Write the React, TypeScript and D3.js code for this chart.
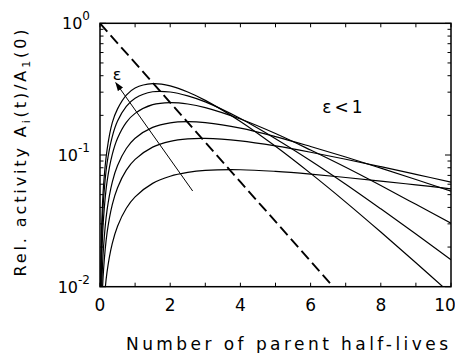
import React from "react";
import * as d3 from "d3";

// time points (number of parent half-lives)
const tPoints = [0.01, 0.02, 0.05, 0.1, 0.2, 0.35, 0.5, 0.75, 1, 1.5, 2, 2.5, 3, 4, 5, 6, 7, 8, 9, 10];

// daughter activity curves (top to bottom peak)
const curveE09 = [0.0062, 0.0123, 0.0302, 0.0584, 0.109, 0.176, 0.224, 0.285, 0.323, 0.348, 0.335, 0.301, 0.26, 0.18, 0.1165, 0.0725, 0.0439, 0.026, 0.0152, 0.0088];
const curveE07 = [0.0048, 0.0096, 0.0235, 0.0457, 0.0862, 0.138, 0.181, 0.234, 0.27, 0.302, 0.301, 0.281, 0.253, 0.189, 0.133, 0.0905, 0.06, 0.039, 0.0251, 0.016];
const curveE05 = [0.0034, 0.0069, 0.0169, 0.0329, 0.0625, 0.101, 0.134, 0.177, 0.207, 0.241, 0.25, 0.244, 0.229, 0.1875, 0.1455, 0.109, 0.0806, 0.0586, 0.0422, 0.0303];
const curveE03 = [0.0021, 0.0041, 0.0102, 0.0199, 0.038, 0.0623, 0.0832, 0.112, 0.134, 0.162, 0.1756, 0.179, 0.176, 0.16, 0.138, 0.116, 0.0966, 0.0795, 0.0651, 0.0532];
const curveE02 = [0.0014, 0.0028, 0.0068, 0.0133, 0.0255, 0.042, 0.0565, 0.0767, 0.0926, 0.1147, 0.127, 0.1326, 0.1337, 0.128, 0.1172, 0.1049, 0.0928, 0.0815, 0.0713, 0.0623];
const curveE01 = [0.0007, 0.0014, 0.0034, 0.0067, 0.0129, 0.0213, 0.0288, 0.0394, 0.0481, 0.0609, 0.069, 0.0738, 0.0764, 0.0773, 0.0751, 0.0716, 0.0675, 0.0634, 0.0593, 0.0554];
const daughterCurves = [curveE09, curveE07, curveE05, curveE03, curveE02, curveE01];

// parent (dashed)
const parentT = [0, 2, 4, 6, 8, 10];
const parentA = [1, 0.25, 0.0625, 0.0156, 0.0039, 0.00098];

// arrow annotation (data units): from, to
const arrowT = [2.64, 0.45];
const arrowA = [0.0533, 0.354];
const epsLabelPos = [0.49, 0.41];
const condLabelPos = [6.95, 0.21];

const xTicks = [0, 2, 4, 6, 8, 10];
const xMinorTicks = [1, 3, 5, 7, 9];
const yMajor = [0.01, 0.1, 1];
const yMajorExp = ["-2", "-1", "0"];

export default function App() {
  const W = 455, H = 353;
  const x0 = 100, x1 = 451, y0 = 286.7, y1 = 23.3;
  const x = d3.scaleLinear().domain([0, 10]).range([x0, x1]);
  const y = d3.scaleLog().domain([0.01, 1]).range([y0, y1]);

  const line = d3
    .line<[number, number]>()
    .x((d) => x(d[0]))
    .y((d) => y(d[1]))
    .curve(d3.curveCatmullRom.alpha(0.5));
  const straight = d3
    .line<[number, number]>()
    .x((d) => x(d[0]))
    .y((d) => y(d[1]));

  const minorY: number[] = [];
  for (const dec of [0.01, 0.1]) for (let k = 2; k <= 9; k++) minorY.push(dec * k);

  const font = "'DejaVu Sans', sans-serif";

  return (
    <svg width={W} height={H} style={{ position: "absolute", left: 0, top: 0, background: "#fff" }} fontFamily={font}>
      <defs>
        <clipPath id="plotclip">
          <rect x={x0} y={y1} width={x1 - x0} height={y0 - y1} />
        </clipPath>
        <marker id="ah" viewBox="0 0 10 10" refX="9" refY="5" markerWidth="9" markerHeight="9" orient="auto" markerUnits="userSpaceOnUse">
          <path d="M0,1.5 L10,5 L0,8.5 Z" fill="#000" />
        </marker>
      </defs>

      <g clipPath="url(#plotclip)">
        {daughterCurves.map((vals, i) => (
          <path
            key={i}
            d={line(tPoints.map((t, j) => [t, vals[j]]) as [number, number][]) || ""}
            fill="none"
            stroke="#000"
            strokeWidth={1.2}
          />
        ))}
        <path
          d={straight(parentT.map((t, j) => [t, parentA[j]]) as [number, number][]) || ""}
          fill="none"
          stroke="#000"
          strokeWidth={1.9}
          strokeDasharray="11,5"
        />
      </g>

      {/* arrow */}
      <line
        x1={x(arrowT[0])}
        y1={y(arrowA[0])}
        x2={x(arrowT[1])}
        y2={y(arrowA[1])}
        stroke="#000"
        strokeWidth={1}
        markerEnd="url(#ah)"
      />
      <text x={x(epsLabelPos[0])} y={y(epsLabelPos[1])} fontSize={16} textAnchor="middle" dominantBaseline="central">ε</text>
      <text x={x(condLabelPos[0])} y={y(condLabelPos[1])} fontSize={17} textAnchor="middle" letterSpacing={3}>ε&lt;1</text>

      {/* frame */}
      <rect x={x0} y={y1} width={x1 - x0} height={y0 - y1} fill="none" stroke="#000" strokeWidth={1.5} />

      {/* x ticks */}
      {[...xTicks, ...xMinorTicks].map((t) => (
        <g key={"xt" + t}>
          <line x1={x(t)} x2={x(t)} y1={y0} y2={y0 - 4} stroke="#000" strokeWidth={1} />
          <line x1={x(t)} x2={x(t)} y1={y1} y2={y1 + 4} stroke="#000" strokeWidth={1} />
        </g>
      ))}
      {xTicks.map((t) => (
        <text key={"xl" + t} x={t === 10 ? x(t) - 6 : x(t)} y={311} fontSize={17} textAnchor="middle">{t}</text>
      ))}

      {/* y ticks */}
      {yMajor.map((v) => (
        <g key={"ym" + v}>
          <line x1={x0} x2={x0 + 6} y1={y(v)} y2={y(v)} stroke="#000" strokeWidth={1} />
          <line x1={x1} x2={x1 - 6} y1={y(v)} y2={y(v)} stroke="#000" strokeWidth={1} />
        </g>
      ))}
      {minorY.map((v) => (
        <g key={"yn" + v}>
          <line x1={x0} x2={x0 + 3.5} y1={y(v)} y2={y(v)} stroke="#000" strokeWidth={1} />
          <line x1={x1} x2={x1 - 3.5} y1={y(v)} y2={y(v)} stroke="#000" strokeWidth={1} />
        </g>
      ))}
      {yMajor.map((v, i) => (
        <text key={"yl" + v} x={90} y={y(v) + 6} fontSize={16} textAnchor="end">
          10
          <tspan fontSize={12} dy={-9}>{yMajorExp[i]}</tspan>
        </text>
      ))}

      {/* axis titles */}
      <text x={287} y={350} fontSize={17} textAnchor="middle" textLength={322} lengthAdjust="spacing">
        Number of parent half-lives
      </text>
      <text
        transform={`translate(26,153) rotate(-90)`}
        fontSize={16}
        textAnchor="middle"
        textLength={247}
        lengthAdjust="spacing"
      >
        Rel. activity A<tspan fontSize={11} dy={4}>i</tspan>
        <tspan dy={-4}>(t)/A</tspan>
        <tspan fontSize={11} dy={4}>1</tspan>
        <tspan dy={-4}>(0)</tspan>
      </text>
    </svg>
  );
}
